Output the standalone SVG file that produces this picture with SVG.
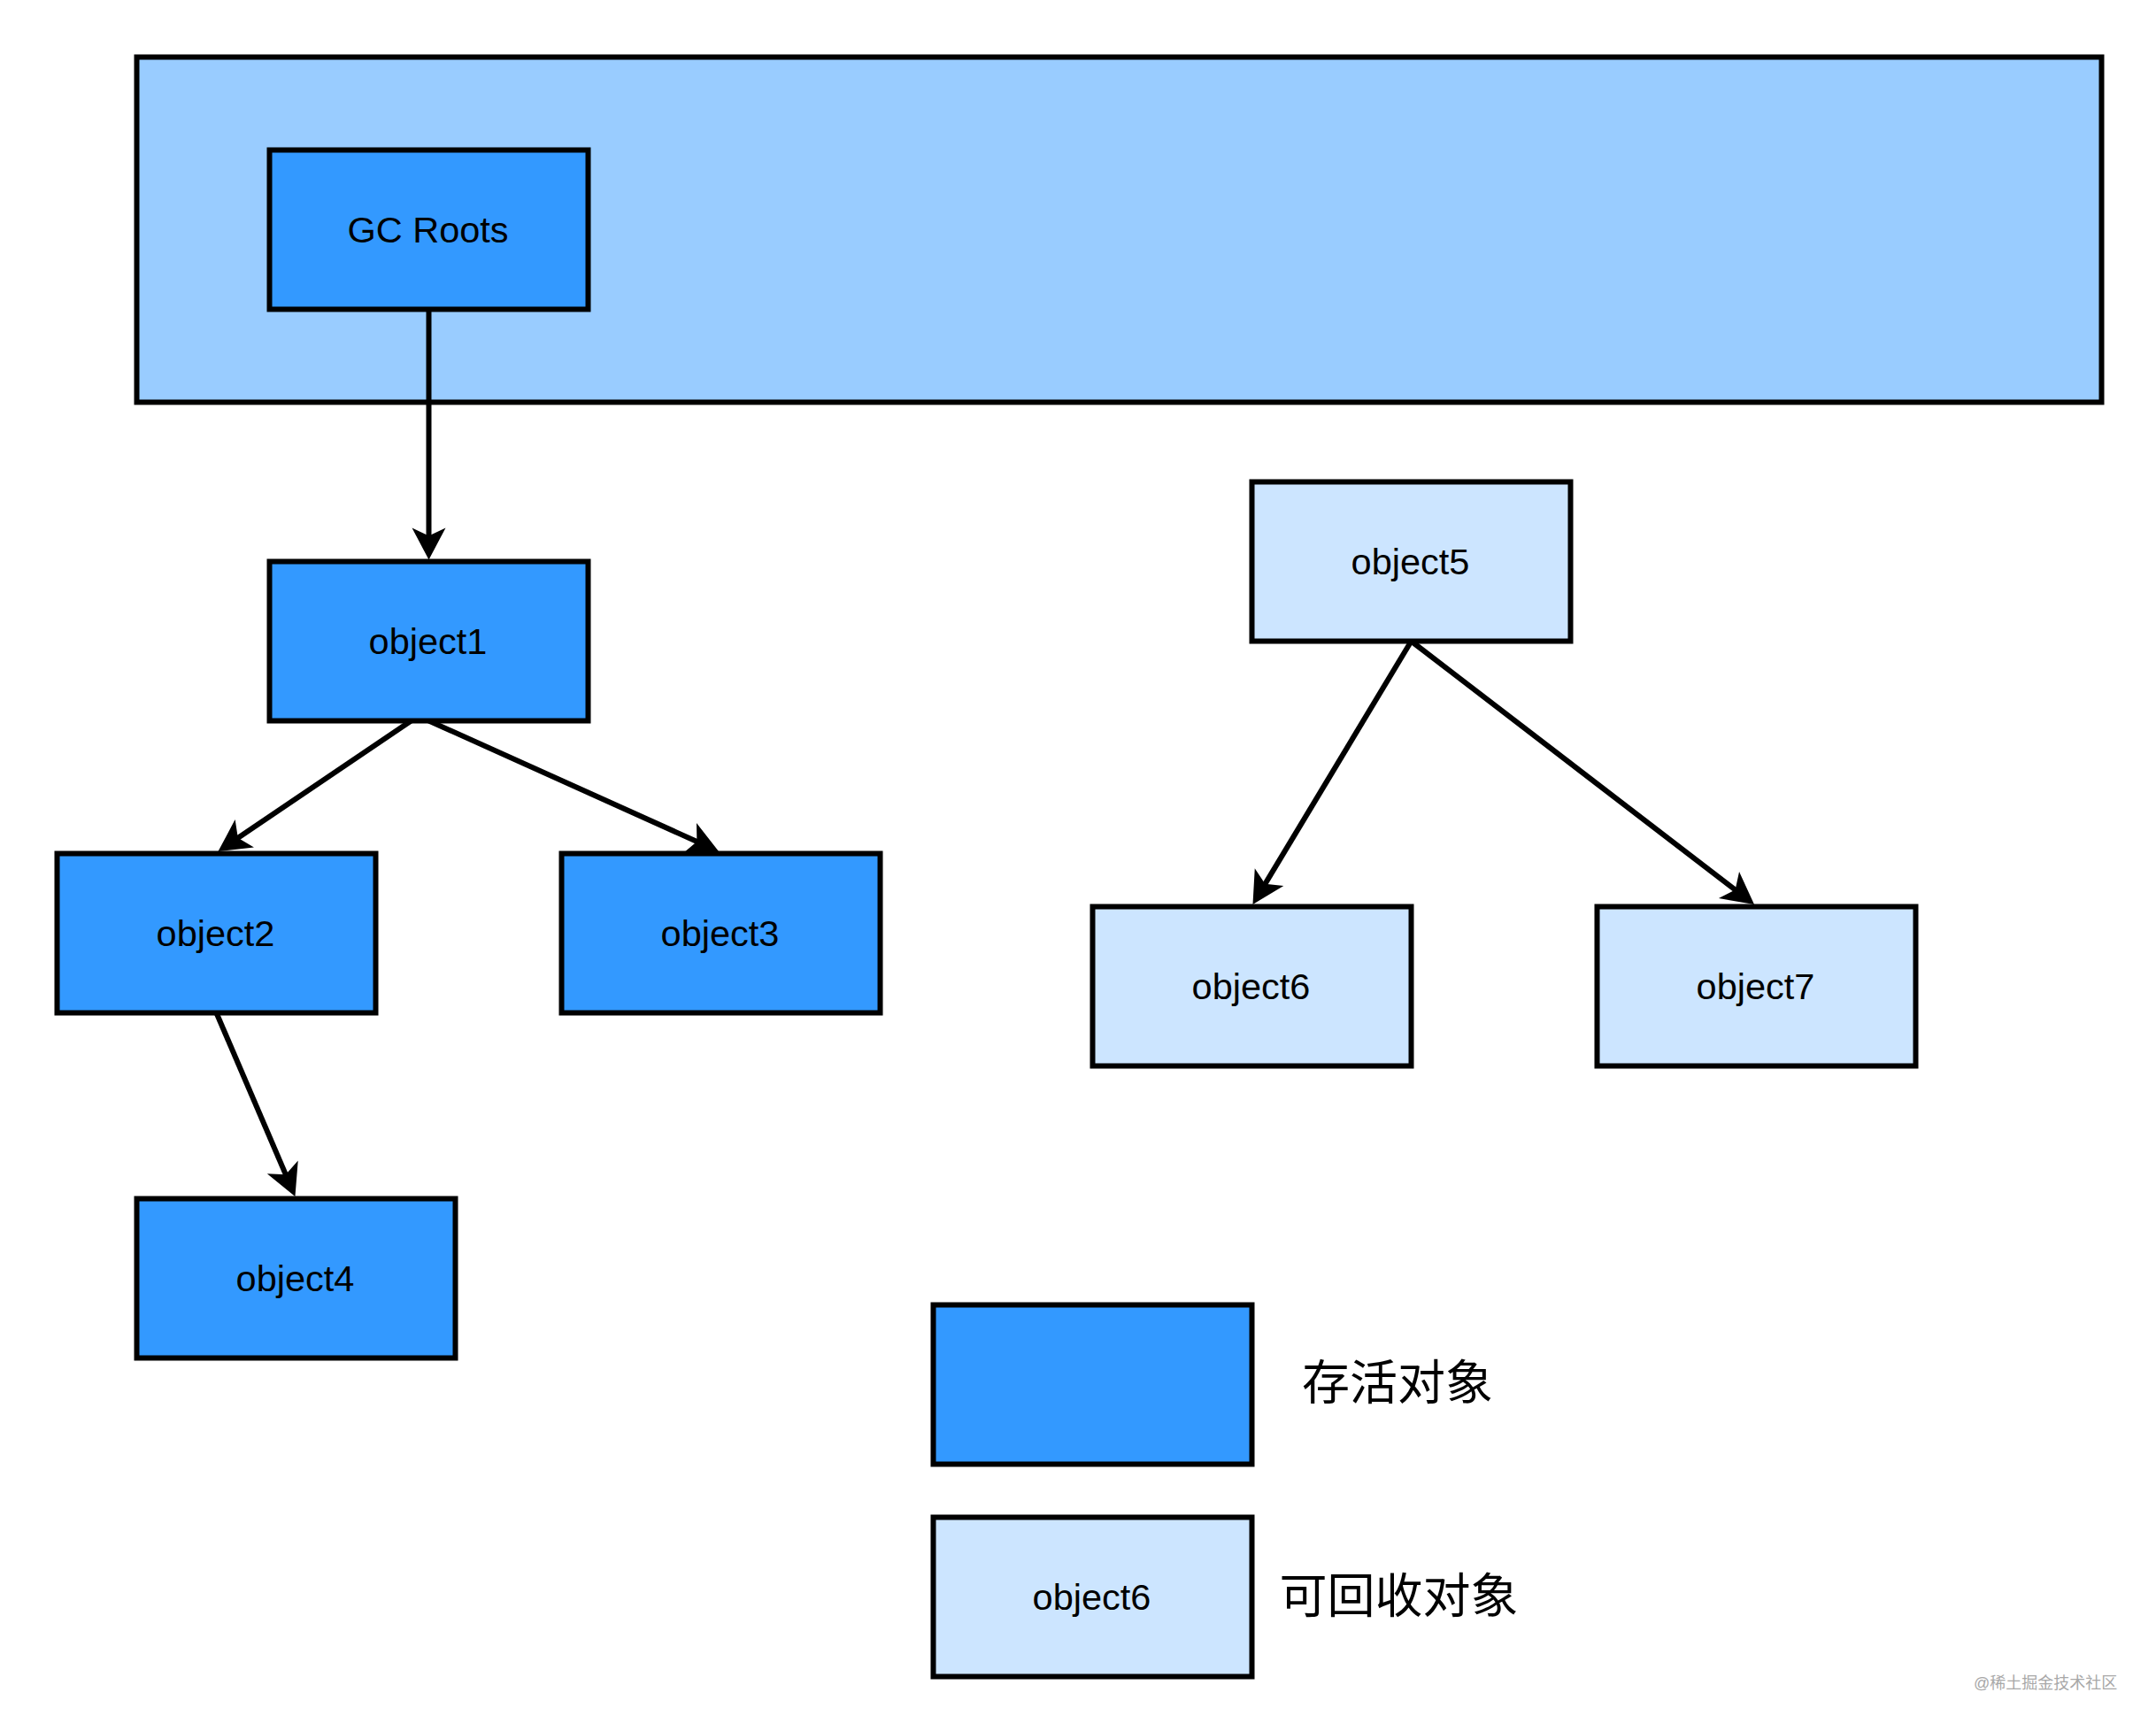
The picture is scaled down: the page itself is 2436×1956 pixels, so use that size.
<svg xmlns="http://www.w3.org/2000/svg" width="2436" height="1956" viewBox="0 0 2436 1956">
  <style>
    .box { stroke: #000000; stroke-width: 6; }
    .dark { fill: #3399FF; }
    .light { fill: #CCE5FF; }
    .area { fill: #99CCFF; }
    .lbl { font-family: "Liberation Sans", Arial, sans-serif; font-size: 41.5px; fill: #000000; text-anchor: middle; }
    .cjk { font-family: "Liberation Sans", "Noto Sans CJK SC", sans-serif; font-size: 54px; fill: #000000; text-anchor: middle; }
    .wm { font-family: "Liberation Sans", "Noto Sans CJK SC", sans-serif; font-size: 18px; fill: #A8A8A8; }
    .edge { fill: none; stroke: #000000; stroke-width: 6; marker-end: url(#arrow); }
  </style>
  <defs>
    <marker id="arrow" markerUnits="userSpaceOnUse" viewBox="-40 -22 42 44" markerWidth="42" markerHeight="44" refX="-8" refY="0" orient="auto" overflow="visible">
      <path d="M0,0 L-36,-19 L-27,0 L-36,19 Z" fill="#000000"/>
    </marker>
  </defs>
  <rect width="2436" height="1956" fill="#FFFFFF"/>

  <g id="heap-area">
    <rect class="box area" x="154.5" y="64.5" width="2220" height="390"/>
  </g>

  <g id="connectors">
    <path class="edge" d="M484.5,349.5 L484.5,624.5"/>
    <path class="edge" d="M464.5,814.5 L253.1,957.5"/>
    <path class="edge" d="M484.5,814.5 L804.7,958.7"/>
    <path class="edge" d="M244.5,1144.5 L330.3,1344.6"/>
    <path class="edge" d="M1594.5,724.5 L1419.6,1015.1"/>
    <path class="edge" d="M1594.5,724.5 L1975.7,1017.1"/>
  </g>

  <g id="gc-roots">
    <rect class="box dark" x="304.5" y="169.5" width="360" height="180"/>
    <text class="lbl" x="483.5" y="273.5">GC Roots</text>
  </g>
  <g id="object1">
    <rect class="box dark" x="304.5" y="634.5" width="360" height="180"/>
    <text class="lbl" x="483.5" y="738.5">object1</text>
  </g>
  <g id="object2">
    <rect class="box dark" x="64.5" y="964.5" width="360" height="180"/>
    <text class="lbl" x="243.5" y="1068.5">object2</text>
  </g>
  <g id="object3">
    <rect class="box dark" x="634.5" y="964.5" width="360" height="180"/>
    <text class="lbl" x="813.5" y="1068.5">object3</text>
  </g>
  <g id="object4">
    <rect class="box dark" x="154.5" y="1354.5" width="360" height="180"/>
    <text class="lbl" x="333.5" y="1458.5">object4</text>
  </g>
  <g id="object5">
    <rect class="box light" x="1414.5" y="544.5" width="360" height="180"/>
    <text class="lbl" x="1593.5" y="648.5">object5</text>
  </g>
  <g id="object6">
    <rect class="box light" x="1234.5" y="1024.5" width="360" height="180"/>
    <text class="lbl" x="1413.5" y="1128.5">object6</text>
  </g>
  <g id="object7">
    <rect class="box light" x="1804.5" y="1024.5" width="360" height="180"/>
    <text class="lbl" x="1983.5" y="1128.5">object7</text>
  </g>

  <g id="legend-alive">
    <rect class="box dark" x="1054.5" y="1474.5" width="360" height="180"/>
    <text class="cjk" x="1579" y="1582">存活对象</text>
  </g>
  <g id="legend-collectable">
    <rect class="box light" x="1054.5" y="1714.5" width="360" height="180"/>
    <text class="lbl" x="1233.5" y="1818.5">object6</text>
    <text class="cjk" x="1580.5" y="1823">可回收对象</text>
  </g>

  <text class="wm" x="2230" y="1908">@稀土掘金技术社区</text>
</svg>
